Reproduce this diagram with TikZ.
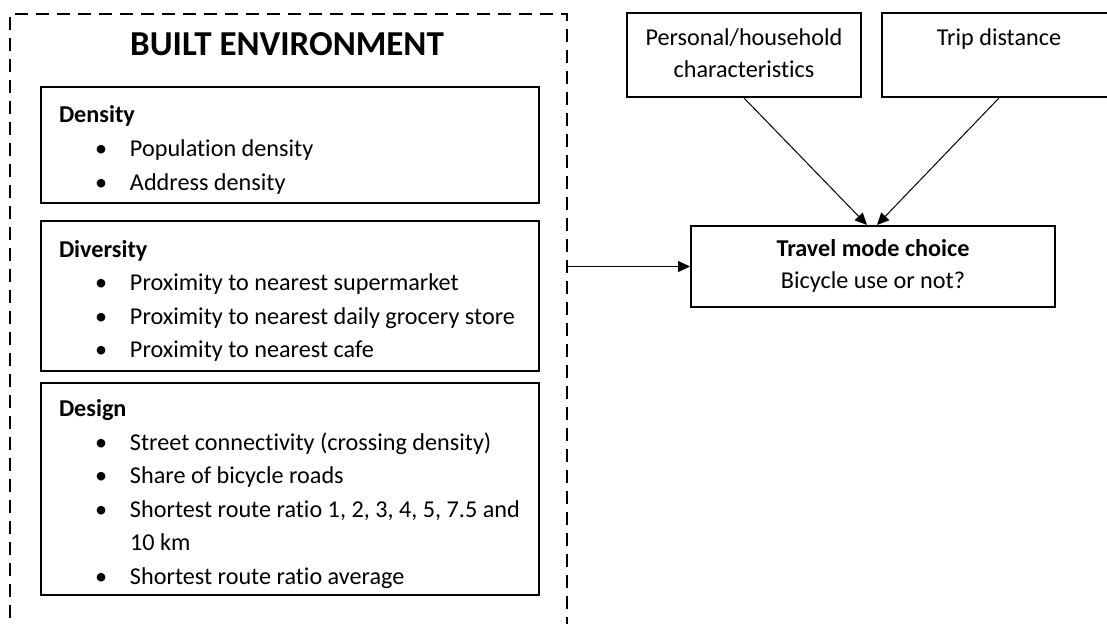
\documentclass[tikz,border=0pt]{standalone}
\usepackage{fontspec}
\setmainfont[Ligatures=NoCommon]{Carlito}
\usetikzlibrary{arrows.meta}
\setlength{\parindent}{0pt}
\tikzset{
  groupbox/.style={draw, line width=1pt, inner sep=0pt,
    font=\fontsize{12.1pt}{16.8pt}\selectfont},
  factorbox/.style={draw, line width=1pt, inner sep=0pt, align=center,
    font=\fontsize{12.1pt}{16pt}\selectfont},
  link/.style={-{Triangle[length=6pt,width=5.5pt]}, line width=0.5pt},
}
\newenvironment{grouptext}{\begin{minipage}{249pt}\vspace*{5pt}\raggedright\leftskip=9pt}{\end{minipage}}
\newcommand{\bitem}[1]{\par\hangindent=35.5pt\hangafter=1\hspace*{18pt}\makebox[17.5pt][l]{\textbullet}#1}
\begin{document}
\begin{tikzpicture}[x=0.5pt,y=-0.5pt]
  \useasboundingbox (0,0) rectangle (1107,624);
  % Built environment group
  \node[draw, line width=1.4pt, dash pattern=on 6.5pt off 4pt, minimum width=278.5pt, minimum height=313pt] (frame) at (288.5,327) {};
  \node[font=\fontsize{17.5pt}{20pt}\selectfont\bfseries] (title) at (287,44) {BUILT ENVIRONMENT};
  \node[groupbox, minimum height=58pt] (density) at (290,145) {\begin{grouptext}
    \textbf{Density}
    \bitem{Population density}
    \bitem{Address density}
  \end{grouptext}};
  \node[groupbox, minimum height=75pt] (diversity) at (290,296) {\begin{grouptext}
    \textbf{Diversity}
    \bitem{Proximity to nearest supermarket}
    \bitem{Proximity to nearest daily grocery store}
    \bitem{Proximity to nearest cafe}
  \end{grouptext}};
  \node[groupbox, minimum height=106pt] (design) at (290,489) {\begin{grouptext}
    \textbf{Design}
    \bitem{Street connectivity (crossing density)}
    \bitem{Share of bicycle roads}
    \bitem{Shortest route ratio 1, 2, 3, 4, 5, 7.5 and\newline 10 km}
    \bitem{Shortest route ratio average}
  \end{grouptext}};
  % Other factors and outcome
  \node[factorbox, minimum width=117pt, minimum height=42pt] (personal) at (744,55) {\strut Personal/household\\\strut characteristics};
  \node[factorbox, minimum width=117pt, minimum height=42pt] (trip) at (999,55) {\strut Trip distance\\\strut};
  \node[factorbox, minimum width=182pt, minimum height=40.5pt] (travel) at (873,266.5) {\strut\textbf{Travel mode choice}\\\strut Bicycle use or not?};
  \draw[link] (personal.south) -- ([xshift=-3pt]travel.north);
  \draw[link] (trip.south) -- ([xshift=2pt]travel.north);
  \draw[link] (frame.east |- travel.west) -- (travel.west);
\end{tikzpicture}
\end{document}
